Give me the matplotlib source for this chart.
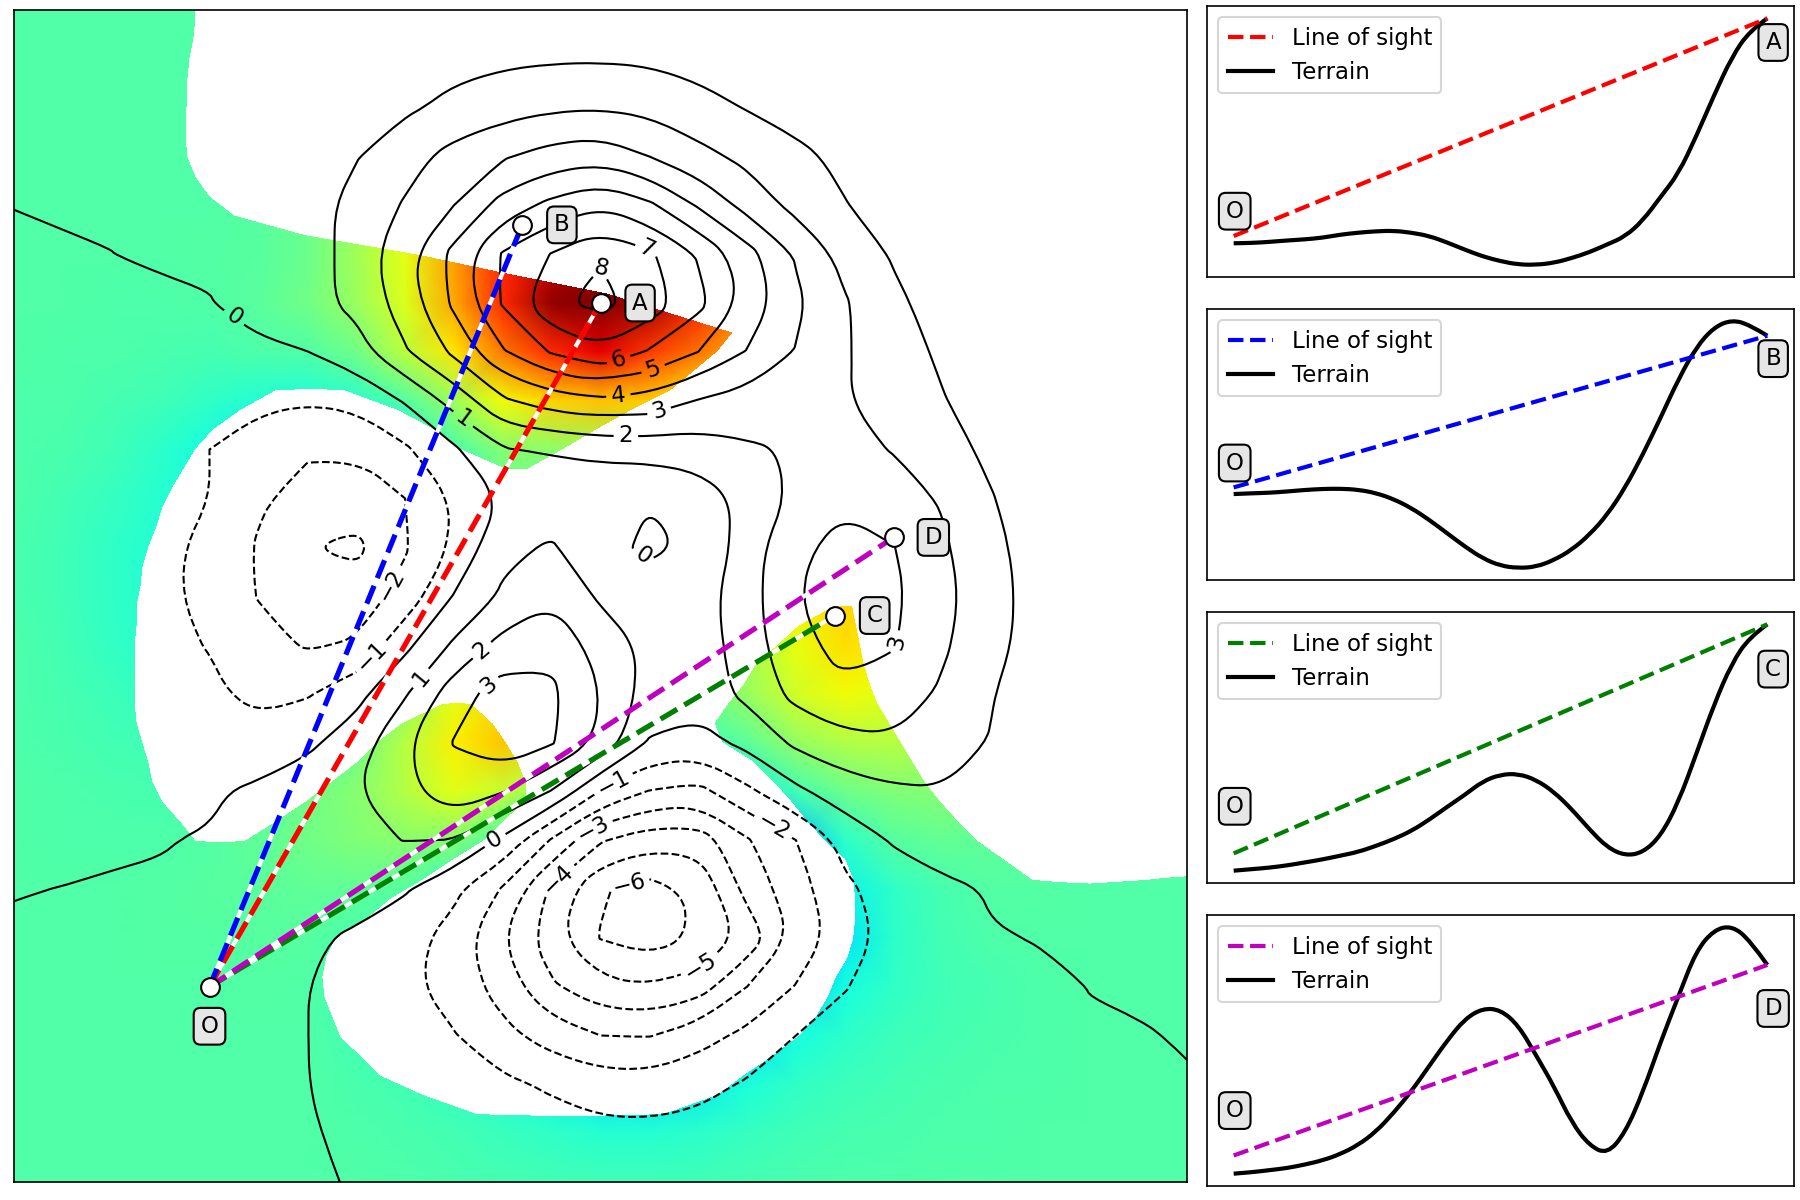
import numpy as np
import matplotlib
matplotlib.use("Agg")
import matplotlib.pyplot as plt
from matplotlib.patches import PathPatch
from matplotlib.path import Path

plt.rcParams["font.size"] = 11

# terrain heights, top row first
x_nodes = np.linspace(-3, 3, 25)
y_nodes = np.linspace(3, -3, 25)
elevation = [
    [.01,.01,.01,.01,.01,.01,.01,.02,.04,.06,.08,.08,.08,.07,.05,.03,.02,.01,.01,.01,.01,.01,.01,.01,.01],
    [.01,.01,.01,.01,.02,.04,.1,.25,.45,.7,.82,.9,.92,.85,.65,.4,.22,.1,.04,.02,.01,.01,.01,.01,.01],
    [.01,.01,.01,.01,.02,.05,.15,.4,.85,1.25,1.6,1.85,1.93,1.75,1.35,.95,.6,.35,.15,.08,.03,.01,.01,.01,.01],
    [.01,.01,.01,.01,.03,.12,.45,.95,1.6,2.35,2.9,3.4,3.6,3.0,2.3,1.75,1.25,.75,.4,.2,.08,.03,.01,.01,.01],
    [.002,.01,.01,.01,.03,.12,.6,1.3,2.1,3.0,4.4,5.3,5.9,5.2,3.9,2.65,1.7,1.05,.5,.2,.08,.03,.01,.01,.01],
    [-.02,-.01,-.001,.02,.05,.1,.45,1.45,2.65,4.3,6.1,7.05,7.9,7.15,5.9,4.4,2.9,1.65,.9,.4,.15,.05,.02,.01,.01],
    [-.02,-.02,-.03,-.03,-.015,.15,.6,1.3,2.45,4.2,6.1,7.85,8.25,7.65,6.3,4.7,3.2,2.1,1.2,.6,.25,.08,.03,.01,.01],
    [-.02,-.04,-.07,-.12,-.15,-.08,-.01,.55,1.9,3.2,4.9,6.1,6.8,5.9,5.0,3.95,2.95,2.1,1.4,.85,.4,.15,.05,.02,.01],
    [-.03,-.07,-.15,-.3,-.55,-.8,-.92,-.7,.08,1.35,2.85,3.5,3.8,3.6,2.95,2.6,2.35,2.05,1.65,1.05,.55,.2,.08,.03,.01],
    [-.05,-.12,-.3,-.6,-1.0,-1.45,-1.85,-1.9,-1.15,-.15,.95,1.1,1.3,1.4,1.5,1.85,2.1,2.25,1.95,1.35,.8,.35,.12,.05,.02],
    [-.08,-.2,-.45,-.75,-1.0,-1.85,-2.4,-2.45,-2.0,-.9,.1,.3,.2,.03,.45,1.3,2.2,2.85,2.45,1.9,1.05,.45,.15,.05,.02],
    [-.1,-.3,-.55,-.8,-1.2,-2.1,-2.95,-3.25,-2.1,-.85,.75,1.12,.2,-.12,.1,1.5,2.85,3.25,3.03,2.15,1.25,.55,.2,.07,.02],
    [-.1,-.3,-.55,-.8,-1.25,-2.05,-2.45,-2.5,-1.65,.05,1.15,1.8,.85,.35,.55,1.6,2.95,3.5,3.2,2.3,1.35,.6,.2,.07,.02],
    [-.08,-.25,-.5,-.75,-1.05,-1.65,-2.1,-1.9,-.25,1.15,2.35,2.75,1.6,.75,.45,1.55,2.7,3.35,3.05,2.15,1.3,.55,.2,.07,.02],
    [-.05,-.15,-.35,-.55,-.8,-1.3,-1.1,-.3,.9,2.55,3.45,3.2,2.0,.6,.45,1.25,2.3,2.85,2.6,1.85,1.05,.45,.15,.05,.02],
    [-.03,-.1,-.2,-.3,-.45,-.5,-.2,.5,1.85,3.05,3.75,3.1,1.75,-.1,-.35,.25,1.2,1.7,1.85,1.45,.95,.4,.15,.05,.02],
    [-.02,-.05,-.1,-.15,-.1,.15,.55,.95,1.75,2.6,2.05,.95,-1.05,-2.05,-2.3,-1.2,-.2,.5,.85,.95,.65,.3,.12,.04,.01],
    [-.01,-.03,-.05,-.03,.05,.3,.6,.85,1.02,.98,-.2,-2.1,-3.9,-4.6,-4.55,-3.1,-2.0,-.65,.1,.35,.3,.15,.05,.02,.01],
    [-.005,.002,.03,.06,.12,.2,.28,.3,.1,-.75,-2.1,-4.15,-5.9,-6.35,-5.85,-3.65,-2.45,-1.2,-.55,-.15,.05,.06,.03,.01,.01],
    [.015,.01,.02,.04,.07,.12,.1,-.1,-.6,-1.4,-2.95,-4.65,-6.05,-6.5,-5.85,-4.7,-2.7,-1.45,-.65,-.25,-.03,.02,.02,.01,.01],
    [.01,.01,.01,.02,.03,.04,.01,-.3,-.8,-1.35,-2.45,-3.85,-4.7,-4.95,-4.5,-3.0,-1.95,-1.05,-.55,-.3,-.15,-.08,.005,.01,.01],
    [.01,.01,.01,.01,.01,.02,.005,-.25,-.55,-.95,-1.7,-2.45,-3.0,-3.05,-2.4,-1.75,-1.0,-.65,-.35,-.2,-.1,-.05,-.02,-.005,.005],
    [.01,.01,.01,.01,.01,.01,.005,-.1,-.25,-.45,-.8,-1.15,-1.5,-1.55,-1.3,-.9,-.55,-.35,-.2,-.1,-.05,-.03,-.02,-.01,-.005],
    [.01,.01,.01,.01,.01,.01,.02,-.05,-.12,-.22,-.38,-.55,-.72,-.75,-.65,-.45,-.3,-.18,-.1,-.05,-.03,-.02,-.01,-.01,-.01],
    [.01,.01,.01,.01,.01,.01,.02,-.01,-.05,-.09,-.15,-.22,-.28,-.3,-.26,-.18,-.1,-.06,-.03,-.02,-.01,-.01,-.01,-.01,-.01],
]

# visible x ranges for each 0.1 tall row of the map, top row first
visible_spans = [
    [(-3,-2.07)], [(-3,-2.08)], [(-3,-2.10)], [(-3,-2.11)], [(-3,-2.11)], [(-3,-2.12)],
    [(-3,-2.12)], [(-3,-2.11)], [(-3,-2.07)], [(-3,-2.00)], [(-3,-1.87)], [(-3,-1.51)],
    [(-3,-0.93)], [(-3,-0.46)], [(-3,0.04)], [(-3,0.36)], [(-3,0.68)], [(-3,0.60)], [(-3,0.48)],
    [(-3,-1.66),(-1.31,0.36)], [(-3,-1.84),(-1.04,0.16)], [(-3,-1.98),(-0.85,-0.02)],
    [(-3,-2.07),(-0.72,-0.19)], [(-3,-2.13),(-0.49,-0.37)],
    [(-3,-2.19)], [(-3,-2.24)], [(-3,-2.27)], [(-3,-2.31)], [(-3,-2.34)], [(-3,-2.35)],
    [(-3,-2.37),(1.19,1.29)], [(-3,-2.37),(1.01,1.31)], [(-3,-2.38),(0.90,1.33)],
    [(-3,-2.38),(0.79,1.35)], [(-3,-2.38),(0.73,1.38)],
    [(-3,-2.38),(-0.81,-0.66),(0.65,1.42)], [(-3,-2.37),(-1.02,-0.55),(0.58,1.48)],
    [(-3,-2.34),(-1.15,-0.48),(0.62,1.54)], [(-3,-2.31),(-1.25,-0.42),(0.78,1.60)],
    [(-3,-2.29),(-1.38,-0.38),(0.88,1.66)], [(-3,-2.24),(-1.51,-0.38),(0.97,1.74)],
    [(-3,-2.15),(-1.66,-0.49),(1.05,1.83)], [(-3,-2.07),(-1.82,-0.59),(1.14,1.93)],
    [(-3,-0.75),(1.25,2.07)], [(-3,-0.90),(1.29,2.21),(2.80,3)],
    [(-3,-1.07),(1.30,3)], [(-3,-1.19),(1.30,3)], [(-3,-1.35),(1.29,3)], [(-3,-1.40),(1.26,3)],
    [(-3,-1.42),(1.20,3)], [(-3,-1.41),(1.16,3)], [(-3,-1.37),(1.10,3)], [(-3,-1.33),(1.01,3)],
    [(-3,-1.23),(0.88,3)], [(-3,-1.13),(0.73,3)], [(-3,-0.91),(0.60,3)], [(-3,-0.63),(0.32,3)],
    [(-3,3)], [(-3,3)], [(-3,3)],
]

# observer and targets
names = ["A", "B", "C", "D"]
target_x = [0.0, -0.4, 1.2, 1.5]
target_y = [1.5, 1.9, -0.1, 0.3]
observer = (-2.0, -2.0)
ray_colors = ["r", "b", "g", "m"]

# contour label spots (x, y)
label_spots = [(-1.85,1.46),(-.70,.91),(.13,.85),(.29,.98),(.09,1.04),(.27,1.16),(.09,1.22),
               (.25,1.81),(.01,1.68),(-1.04,.04),(-1.15,-.33),(-.92,-.42),(-.63,-.25),(-.60,-.42),
               (.24,.24),(1.53,-.24),(.07,-.97),(.89,-1.17),(-.03,-1.21),(-.22,-1.45),(.50,-1.88),
               (.14,-1.44),(-.54,-1.25)]

# profiles along each ray, 31 evenly spaced samples
terrain_a = [.02,.03,.07,.12,.16,.22,.33,.40,.45,.47,.40,.28,.05,-.21,-.45,-.62,-.74,-.75,-.68,-.51,-.30,-.02,.26,.83,1.68,2.51,3.84,5.31,6.68,7.62,8.07]
terrain_b = [.02,.05,.07,.12,.18,.22,.23,.19,.06,-.18,-.53,-.99,-1.51,-2.03,-2.49,-2.78,-2.87,-2.82,-2.56,-2.16,-1.57,-.79,.26,1.56,3.0,4.5,5.75,6.53,6.82,6.63,6.2]
terrain_c = [.02,.04,.06,.09,.13,.17,.22,.27,.35,.44,.55,.70,.87,1.03,1.21,1.30,1.31,1.23,1.07,.84,.57,.33,.22,.26,.48,.93,1.57,2.23,2.78,3.13,3.30]
terrain_d = [.02,.04,.07,.10,.15,.21,.30,.43,.62,.89,1.20,1.56,1.92,2.23,2.38,2.36,2.14,1.71,1.27,.75,.42,.30,.60,1.18,1.90,2.55,3.20,3.50,3.56,3.36,3.00]
profiles = [terrain_a, terrain_b, terrain_c, terrain_d]
sight_start = [.28, .28, .25, .28]
sight_end = [8.07, 6.2, 3.30, 3.00]

bbox = dict(boxstyle="round", fc="0.9", ec="k")


def rounded(verts, closed=False):
    # round off the corners of a polyline with quadratic curves
    verts = np.asarray(verts)
    if closed:
        verts = np.vstack([verts, verts[:2]])
        first = (verts[0] + verts[1]) / 2
        inner = verts[1:-1]
        last = (verts[-2] + verts[-1]) / 2
    else:
        first = verts[0]
        inner = verts[1:-1]
        last = verts[-1]
    out = [first]
    codes = [Path.MOVETO]
    for k, v in enumerate(inner):
        end = (v + inner[k + 1]) / 2 if k + 1 < len(inner) else last
        out += [v, end]
        codes += [Path.CURVE3, Path.CURVE3]
    if len(inner) == 0:
        out.append(last)
        codes.append(Path.LINETO)
    return out, codes


def round_path(path):
    verts, codes = path.vertices, path.codes
    starts = list(np.flatnonzero(codes == Path.MOVETO)) + [len(verts)]
    all_v, all_c = [], []
    for s, e in zip(starts[:-1], starts[1:]):
        part, part_codes = verts[s:e], codes[s:e]
        closed = part_codes[-1] == Path.CLOSEPOLY
        if closed:
            part = part[:-1]
        if len(part) < 2:
            continue
        v, c = rounded(part, closed)
        all_v += v
        all_c += c
    if not all_v:
        return path
    return Path(np.array(all_v), all_c)


fig = plt.figure(figsize=(12, 8), dpi=150)
ax = fig.add_axes([14/1800, 1-1182/1200, 1173/1800, 1172/1200])

# coloured terrain, then white over what the observer can't see
X, Y = np.meshgrid(x_nodes, y_nodes)
Z = np.array(elevation)
ax.pcolormesh(X, Y, Z, cmap="jet", vmin=-6.55, vmax=8.1, shading="gouraud", zorder=1)

mask_x = np.linspace(-3, 3, 301)
mask_y = np.r_[3, np.arange(2.95, -3, -0.1), -3]
seen = np.full((60, mask_x.size), -100.0)
for row, spans in enumerate(visible_spans):
    for a, b in spans:
        lo = a - 1 if a == -3 else a
        hi = b + 1 if b == 3 else b
        seen[row] = np.maximum(seen[row], np.minimum(mask_x - lo, hi - mask_x))
seen = np.vstack([seen[0], seen, seen[-1]])
ax.contourf(mask_x, mask_y, seen, levels=[-1000, 0], colors="white", zorder=2)

cs = ax.contour(X, Y, Z, levels=np.arange(-6, 9), colors="k", linewidths=1, zorder=3)
ax.clabel(cs, fmt=lambda v: f"{v:.0f}".replace("-", "\u2212"), fontsize=11, inline=True, manual=label_spots)
paths = cs.get_paths()
paths[:] = [round_path(p) if len(p.vertices) else p for p in paths]

for name, tx, ty, col in zip(names, target_x, target_y, ray_colors):
    ax.plot([observer[0], tx], [observer[1], ty], color="w", lw=2, zorder=4)
    ax.plot([observer[0], tx], [observer[1], ty], color=col, lw=2.5, ls="--", zorder=5)
    ax.plot(tx, ty, "o", mfc="w", mec="k", ms=9, mew=1, zorder=6)
    ax.annotate(name, (tx, ty), xytext=(19, 0), textcoords="offset points",
                ha="center", va="center", bbox=bbox, zorder=7)
ax.plot(*observer, "o", mfc="w", mec="k", ms=9, mew=1, zorder=6)
ax.annotate("O", observer, xytext=(0, -19), textcoords="offset points",
            ha="center", va="center", bbox=bbox, zorder=7)
ax.set_xlim(-3, 3)
ax.set_ylim(-3, 3)
ax.set_xticks([])
ax.set_yticks([])

# side panels
panel_tops = [6, 309, 612, 915]
o_offsets = [15.4, 14.9, 30.9, 30.3]
end_offsets = [11.6, 11.0, 21.5, 20.9]
dist = np.linspace(0, 1, 31)
for i, name in enumerate(names):
    pax = fig.add_axes([1207/1800, 1-(panel_tops[i]+271)/1200, 587/1800, 271/1200])
    pax.plot([0, 1], [sight_start[i], sight_end[i]], color=ray_colors[i], ls="--", lw=2, label="Line of sight")
    pax.plot([], [], color="k", lw=2, label="Terrain")
    v, c = rounded(np.column_stack([dist, profiles[i]]))
    pax.add_patch(PathPatch(Path(np.array(v), c), fc="none", ec="k", lw=2))
    pax.autoscale_view()
    pax.annotate("O", (0, profiles[i][0]), xytext=(0.5, o_offsets[i]), textcoords="offset points",
                 ha="center", va="center", bbox=bbox)
    pax.annotate(name, (1, profiles[i][-1]), xytext=(2.8, -end_offsets[i]), textcoords="offset points",
                 ha="center", va="center", bbox=bbox)
    pax.set_xticks([])
    pax.set_yticks([])
    pax.legend(loc="upper left")

fig.savefig("out.png")
